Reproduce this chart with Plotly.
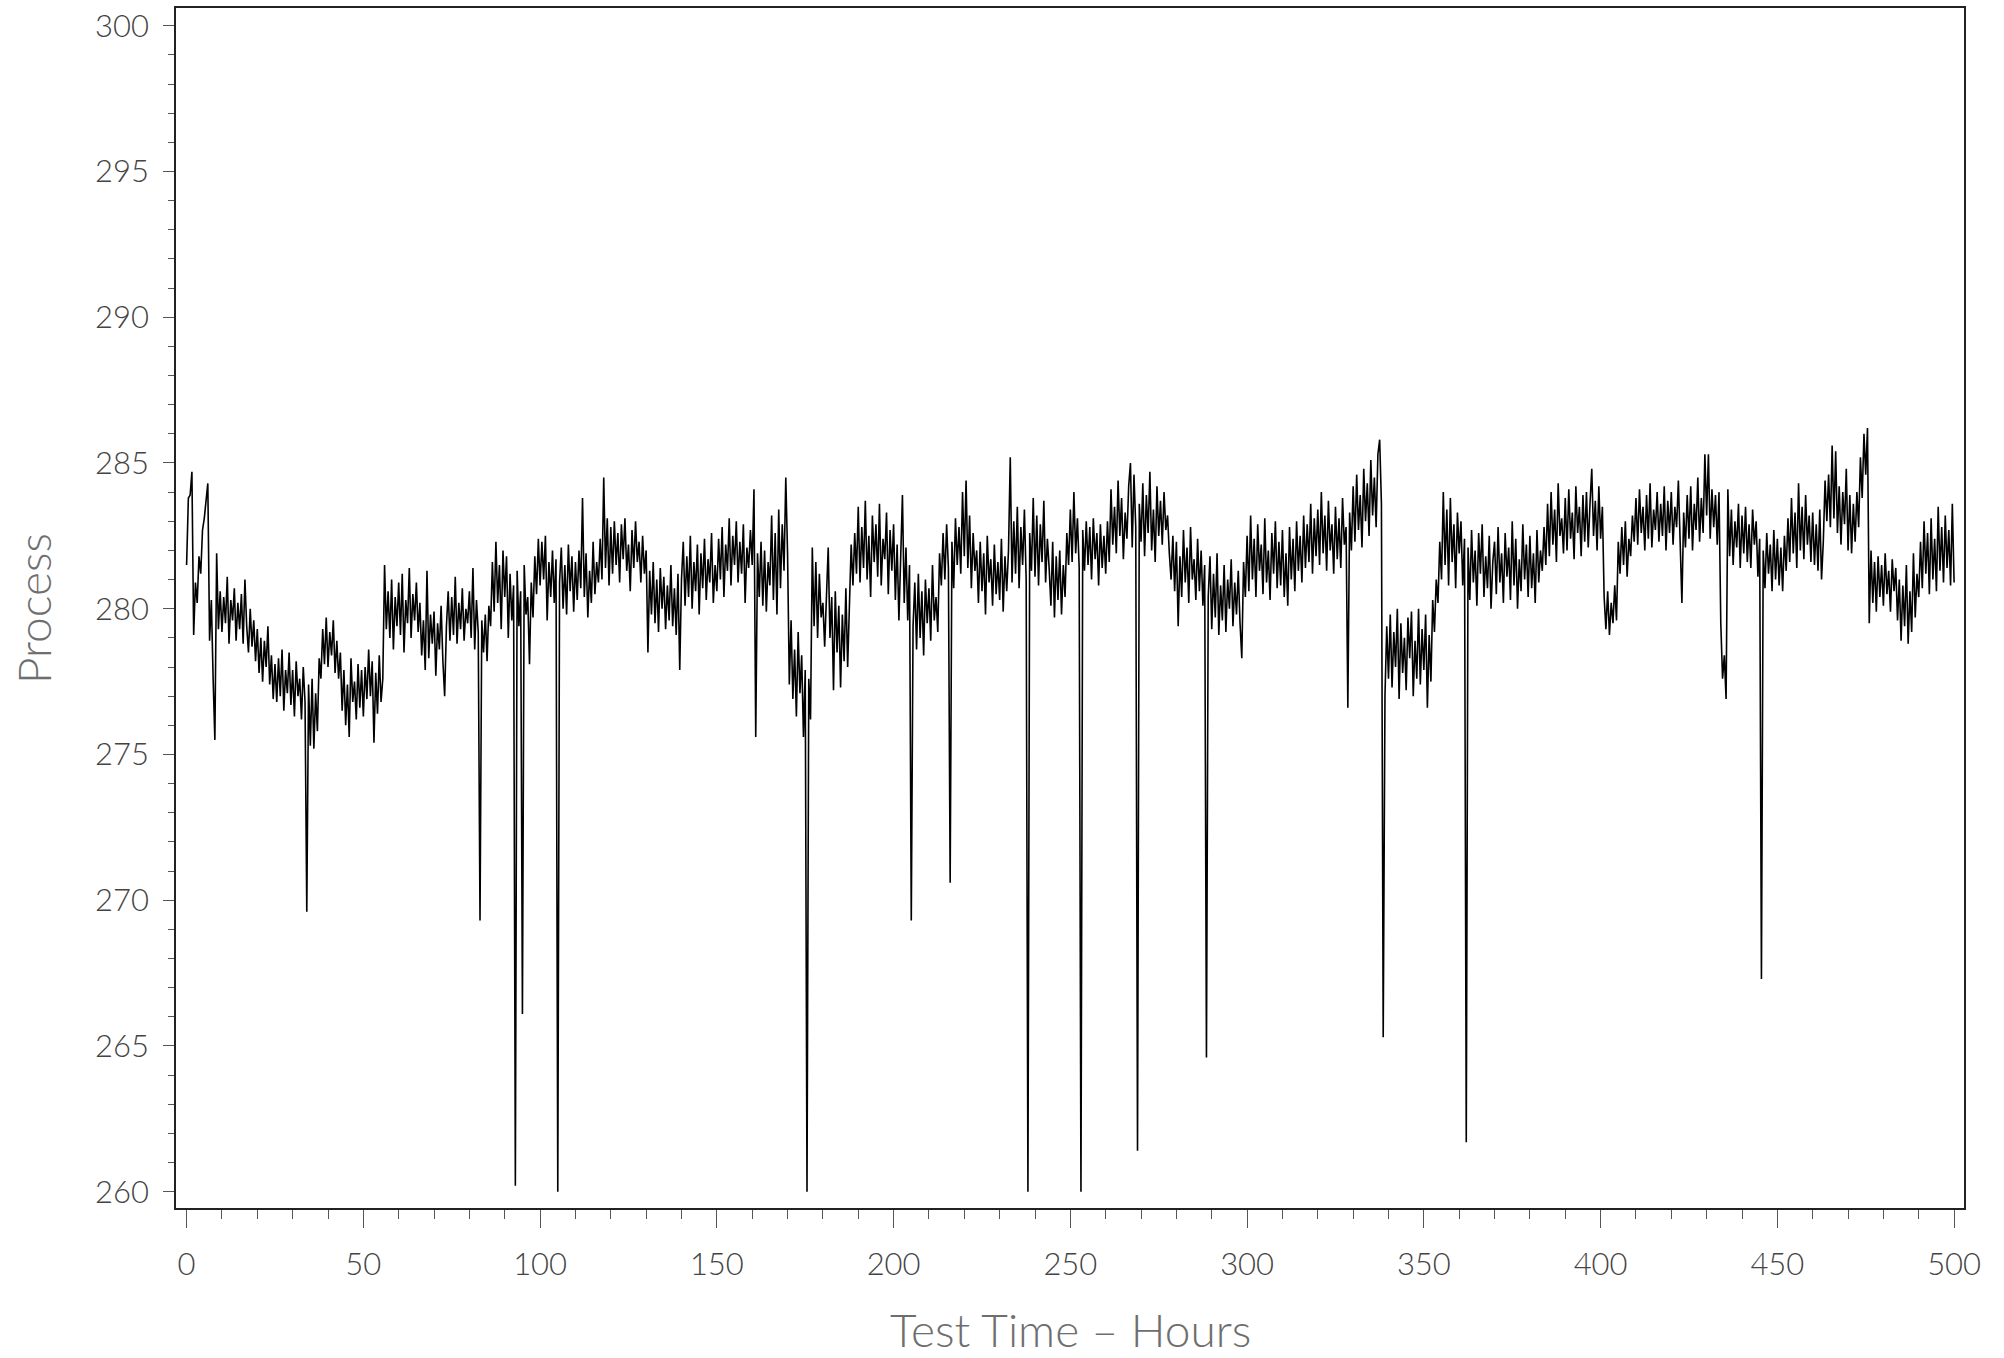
import numpy as np
import plotly.graph_objects as go

sample_step_hours = 0.5

process_000_050 = [
    281.5, 283.8, 283.9, 284.7, 279.1, 280.9, 280.2, 281.8, 281.2, 282.7, 283.1, 283.6, 284.3, 278.9, 280.3, 277.6, 275.5, 281.9, 279.3, 280.6,
    279.2, 280.4, 279.5, 281.1, 278.8, 280.3, 279.6, 280.7, 278.9, 280.2, 279.3, 280.5, 278.8, 281.0, 279.4, 278.5, 280.0, 278.7, 279.6, 278.2,
    279.3, 277.8, 279.0, 277.5, 278.9, 278.0, 279.4, 277.4, 278.4, 276.9, 278.1, 276.8, 278.3, 277.0, 278.6, 276.5, 277.9, 277.1, 278.5, 276.7,
    277.9, 276.3, 278.2, 277.0, 277.6, 276.2, 278.0, 276.8, 269.6, 277.4, 275.3, 277.6, 275.2, 277.1, 275.8, 278.3, 277.6, 279.3, 278.1, 279.7,
    278.0, 279.2, 278.4, 279.6, 277.8, 278.9, 277.6, 278.5, 276.5, 277.9, 276.0, 277.4, 275.6, 278.3, 276.8, 277.5, 276.2, 278.1, 276.6, 277.9,
]
process_050_100 = [
    276.3, 278.0, 276.9, 278.6, 277.0, 278.2, 275.4, 277.8, 276.4, 278.4, 276.8, 277.6, 281.5, 279.3, 280.6, 279.0, 281.0, 278.6, 280.4, 279.4,
    280.9, 279.1, 281.2, 278.5, 280.3, 279.5, 281.4, 279.0, 280.5, 279.6, 280.9, 279.2, 280.2, 278.4, 279.6, 277.9, 281.3, 278.3, 279.8, 278.8,
    279.9, 277.7, 279.5, 278.6, 280.1, 278.2, 277.0, 279.4, 280.6, 278.9, 280.4, 279.1, 281.1, 278.8, 280.2, 279.3, 280.7, 278.9, 280.0, 279.5,
    280.6, 279.0, 281.4, 278.6, 280.3, 279.2, 269.3, 279.6, 278.5, 279.8, 278.2, 280.1, 279.4, 281.6, 279.9, 282.3, 280.2, 281.5, 279.3, 282.0,
    280.4, 281.8, 279.0, 281.2, 279.6, 280.8, 260.2, 281.3, 279.4, 280.6, 266.1, 281.5, 279.8, 280.4, 278.1, 280.9, 279.7, 281.8, 280.5, 282.4,
]
process_100_150 = [
    280.8, 282.3, 281.0, 282.5, 279.6, 281.6, 280.4, 282.0, 280.2, 281.7, 260.0, 280.9, 282.1, 280.0, 281.5, 279.8, 282.2, 280.6, 281.8, 279.9,
    281.6, 280.3, 282.0, 280.7, 283.8, 280.4, 281.9, 279.7, 281.3, 280.2, 282.3, 280.5, 281.6, 280.9, 282.4, 281.0, 284.5, 281.4, 283.1, 280.8,
    282.8, 281.2, 283.0, 281.5, 282.6, 280.9, 282.9, 281.7, 283.1, 281.3, 282.2, 280.6, 282.7, 281.4, 283.0, 281.6, 282.3, 280.9, 282.5, 281.2,
    282.0, 278.5, 281.3, 279.8, 281.6, 279.5, 281.0, 279.2, 281.4, 280.0, 281.1, 279.3, 280.8, 279.6, 281.5, 279.4, 280.7, 279.1, 281.2, 277.9,
    281.0, 282.3, 280.1, 281.8, 280.4, 282.5, 280.0, 281.6, 280.6, 282.2, 279.8, 281.9, 280.7, 282.4, 280.3, 281.7, 280.9, 282.6, 280.2, 281.5,
]
process_150_200 = [
    280.6, 282.4, 281.0, 282.8, 280.4, 282.2, 281.3, 283.1, 280.8, 282.5, 281.5, 283.0, 280.9, 282.3, 281.2, 282.9, 280.2, 282.1, 281.4, 282.7,
    281.5, 284.1, 275.6, 281.9, 280.4, 282.3, 280.1, 282.0, 279.9, 281.6, 280.8, 283.2, 280.3, 282.6, 279.8, 283.4, 280.7, 282.9, 281.3, 284.5,
    281.9, 277.4, 279.6, 276.9, 278.6, 276.3, 279.2, 277.1, 278.4, 275.6, 277.9, 260.0, 277.6, 276.2, 282.1, 279.4, 281.6, 279.0, 281.2, 279.7,
    280.2, 278.7, 280.8, 282.1, 279.0, 280.4, 277.2, 280.6, 278.5, 280.1, 277.3, 279.8, 278.2, 280.7, 278.0, 280.3, 282.2, 280.8, 282.6, 281.2,
    283.5, 280.9, 282.8, 281.4, 283.7, 281.0, 282.5, 280.4, 283.2, 281.6, 282.9, 281.1, 283.6, 280.8, 282.4, 281.7, 283.3, 280.5, 282.7, 281.3,
]
process_200_250 = [
    282.9, 280.3, 282.2, 279.6, 281.8, 283.9, 280.2, 282.1, 279.6, 281.5, 269.3, 279.4, 280.9, 278.6, 281.2, 279.0, 280.6, 278.4, 281.0, 279.5,
    280.7, 278.9, 281.5, 279.6, 280.4, 279.2, 281.9, 280.8, 282.6, 281.0, 282.9, 281.4, 270.6, 282.3, 280.7, 283.1, 281.5, 282.8, 281.2, 284.0,
    281.8, 284.4, 281.4, 283.2, 280.7, 282.6, 281.3, 282.0, 280.2, 282.3, 280.6, 281.9, 279.8, 282.5, 280.9, 281.7, 280.1, 282.2, 280.5, 281.6,
    280.3, 282.4, 279.9, 281.8, 280.6, 282.0, 285.2, 280.9, 283.0, 281.2, 283.5, 280.7, 282.8, 281.5, 283.4, 281.0, 260.0, 282.6, 281.3, 283.8,
    281.1, 283.2, 280.8, 282.9, 281.6, 283.7, 280.9, 282.4, 281.4, 280.1, 282.3, 279.7, 281.8, 280.3, 282.0, 279.8, 281.5, 280.4, 282.6, 281.5,
]
process_250_300 = [
    283.4, 281.6, 284.0, 281.9, 283.1, 281.4, 260.0, 282.7, 281.3, 283.0, 281.5, 282.8, 281.0, 283.1, 281.7, 282.6, 280.8, 282.9, 281.4, 282.5,
    281.2, 283.0, 281.6, 284.1, 282.2, 283.5, 281.9, 284.4, 282.5, 283.8, 281.7, 283.3, 282.4, 284.2, 285.0, 282.1, 284.6, 282.8, 261.4, 283.6,
    282.3, 284.3, 281.8, 283.9, 282.6, 284.7, 282.0, 283.4, 281.6, 284.2, 282.5, 283.7, 282.2, 284.0, 282.7, 283.2, 281.9, 281.0, 282.5, 280.6,
    282.3, 279.4, 281.8, 280.4, 282.7, 280.9, 282.1, 280.2, 282.8, 281.0, 281.7, 280.3, 282.4, 280.6, 282.0, 280.1, 281.5, 264.6, 280.4, 281.8,
    279.3, 281.2, 279.7, 281.9, 279.1, 280.8, 279.6, 281.5, 279.2, 281.0, 280.0, 281.7, 279.4, 280.9, 279.8, 281.3, 279.5, 278.3, 281.6, 280.4,
]
process_300_350 = [
    282.5, 280.6, 283.2, 281.0, 282.4, 280.4, 282.9, 281.3, 282.2, 280.5, 283.1, 280.9, 282.0, 280.3, 282.6, 281.2, 283.0, 280.7, 282.3, 280.8,
    282.7, 280.4, 281.9, 280.1, 282.8, 281.0, 282.4, 280.6, 283.0, 281.3, 282.5, 280.9, 283.2, 281.4, 282.9, 281.6, 283.6, 281.2, 283.1, 281.8,
    283.4, 281.5, 284.0, 281.9, 283.2, 281.3, 283.7, 282.0, 282.9, 281.2, 283.5, 281.7, 283.1, 281.4, 283.8, 282.2, 282.8, 276.6, 283.3, 282.0,
    284.2, 282.3, 284.6, 282.7, 283.9, 282.1, 284.8, 283.0, 284.3, 282.5, 285.1, 283.2, 284.5, 282.8, 285.3, 285.8, 283.6, 265.3, 277.0, 279.4,
    277.6, 279.8, 277.3, 279.2, 278.0, 280.0, 276.9, 279.5, 277.8, 279.0, 277.2, 279.7, 278.3, 279.9, 277.0, 278.9, 277.6, 280.0, 277.4, 279.3,
]
process_350_400 = [
    277.9, 279.8, 276.6, 279.1, 277.5, 280.3, 279.2, 281.0, 280.2, 282.3, 281.0, 284.0, 281.5, 283.4, 280.8, 283.8, 281.6, 282.9, 280.7, 283.3,
    281.9, 283.0, 280.8, 282.4, 261.7, 282.1, 280.3, 282.7, 280.9, 282.0, 280.1, 282.6, 281.2, 282.9, 280.4, 281.8, 280.7, 282.5, 280.0, 281.6,
    282.3, 280.5, 282.8, 280.9, 281.9, 280.2, 282.6, 281.1, 282.1, 280.3, 283.0, 280.8, 282.4, 280.0, 281.7, 280.6, 282.9, 281.0, 282.2, 280.4,
    282.5, 280.7, 281.9, 280.2, 282.7, 280.9, 282.0, 281.3, 282.8, 281.5, 283.6, 281.8, 284.0, 282.2, 283.4, 281.6, 284.3, 282.5, 283.1, 281.9,
    283.8, 282.0, 284.1, 282.4, 283.3, 281.7, 284.2, 282.6, 283.5, 281.8, 283.9, 282.3, 284.0, 282.1, 283.6, 284.8, 282.5, 283.7, 282.0, 284.2,
]
process_400_450 = [
    282.4, 283.5, 280.4, 279.3, 280.6, 279.1, 280.2, 279.5, 280.8, 279.6, 282.3, 281.2, 282.8, 281.5, 283.0, 281.1, 282.4, 281.8, 283.2, 282.3,
    283.8, 282.2, 284.1, 282.6, 283.5, 282.0, 283.9, 282.4, 284.3, 282.1, 283.4, 282.7, 284.0, 282.3, 283.6, 282.5, 284.2, 282.0, 283.7, 282.6,
    284.0, 282.2, 283.5, 282.8, 284.4, 281.9, 280.2, 283.3, 282.1, 283.9, 282.4, 284.2, 282.0, 283.6, 282.7, 284.5, 282.3, 283.8, 282.6, 285.3,
    283.2, 285.3, 282.4, 284.1, 282.8, 283.9, 282.2, 284.0, 279.5, 277.6, 278.4, 276.9, 284.1, 281.8, 283.4, 281.5, 283.0, 282.1, 283.6, 281.4,
    283.2, 281.9, 283.5, 281.6, 282.9, 281.4, 283.4, 282.2, 283.0, 281.1, 282.4, 267.3, 282.0, 280.7, 282.6, 281.2, 282.2, 280.6, 282.7, 281.0,
]
process_450_500 = [
    282.4, 280.8, 282.1, 280.6, 282.5, 281.3, 283.1, 281.6, 283.8, 281.9, 283.3, 281.4, 284.3, 282.0, 283.5, 281.7, 283.9, 282.2, 283.2, 281.6,
    283.3, 281.5, 282.9, 281.3, 283.4, 281.0, 282.3, 284.4, 283.0, 284.6, 282.8, 285.6, 283.1, 285.4, 282.6, 284.2, 282.2, 284.0, 282.9, 284.8,
    282.0, 283.9, 281.9, 283.6, 282.3, 284.0, 282.8, 285.2, 283.8, 286.0, 284.6, 286.2, 279.5, 282.0, 280.2, 281.6, 279.9, 281.8, 280.4, 281.5,
    280.1, 281.9, 280.5, 281.3, 279.9, 281.7, 280.6, 281.4, 279.6, 281.0, 278.9, 280.8, 279.4, 281.5, 278.8, 280.6, 279.2, 281.9, 279.7, 281.2,
    280.4, 282.3, 280.7, 283.0, 281.2, 282.6, 280.5, 283.1, 281.0, 282.4, 280.6, 283.5, 281.3, 282.8, 280.9, 283.2, 281.4, 282.7, 280.8, 283.6,
    280.9,
]

segments = [
    (0, process_000_050), (50, process_050_100), (100, process_100_150),
    (150, process_150_200), (200, process_200_250), (250, process_250_300),
    (300, process_300_350), (350, process_350_400), (400, process_400_450),
    (450, process_450_500),
]

hours, process = [], []
for start, vals in segments:
    hours.extend(start + sample_step_hours * np.arange(len(vals)))
    process.extend(vals)

x_ticks = [0, 50, 100, 150, 200, 250, 300, 350, 400, 450, 500]
y_ticks = [260, 265, 270, 275, 280, 285, 290, 295, 300]

tick_font = dict(family="Lato", size=31, color="#444444", weight=300)
title_font = dict(family="Lato", size=46, color="#6e6e6e", weight=300)

fig = go.Figure(
    go.Scatter(x=hours, y=process, mode="lines",
               line=dict(color="black", width=1.6), showlegend=False)
)

axis_common = dict(
    showgrid=False, zeroline=False, showline=True, mirror=True,
    linecolor="#222222", linewidth=1.5, ticks="outside",
    tickcolor="#555555", tickwidth=1.3, tickfont=tick_font,
)

fig.update_layout(
    width=2004, height=1358,
    margin=dict(l=176, r=40, t=6, b=150),
    paper_bgcolor="white", plot_bgcolor="white",
    xaxis=dict(range=[-3.0, 502.8], tickvals=x_ticks,
               ticktext=[str(v) for v in x_ticks], ticklen=18,
               ticklabelstandoff=10,
               minor=dict(dtick=10, tick0=0, ticklen=9, ticks="outside",
                          tickcolor="#555555", tickwidth=1.3),
               **axis_common),
    yaxis=dict(range=[259.44, 300.61], tickvals=y_ticks,
               ticktext=[str(v) for v in y_ticks], ticklen=11,
               ticklabelstandoff=8,
               minor=dict(dtick=1, tick0=0, ticklen=6, ticks="outside",
                          tickcolor="#555555", tickwidth=1.3),
               **axis_common),
    annotations=[
        dict(text="Test Time \u2013 Hours", xref="paper", yref="paper",
             x=0.5, y=(1208 - 1330) / 1202, xanchor="center", yanchor="middle",
             showarrow=False, font=title_font),
        dict(text="Process", xref="paper", yref="paper",
             x=-0.080, y=0.5, xanchor="center", yanchor="middle",
             textangle=-90, showarrow=False, font=title_font),
    ],
)

fig.write_html("out.html",
               config={"displayModeBar": False},
               post_script="document.body.style.margin='0';"
                           "document.body.style.overflow='hidden';")
